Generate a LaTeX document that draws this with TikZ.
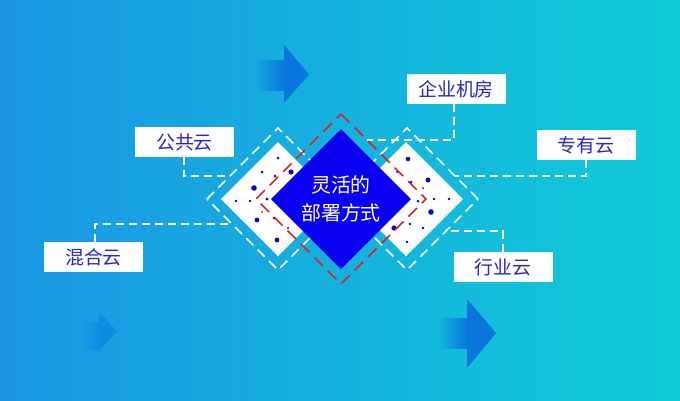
\documentclass[tikz,border=0pt]{standalone}
\usepackage{fontspec}
\newfontfamily\cjk{Noto Sans CJK SC}
\definecolor{bgL}{RGB}{26,150,228}
\definecolor{bgR}{RGB}{16,204,216}
\definecolor{arrowc}{RGB}{8,118,220}
\definecolor{arrowf}{RGB}{12,140,226}
\definecolor{coreblue}{RGB}{10,0,240}
\definecolor{dotblue}{RGB}{15,0,220}
\definecolor{txtblue}{RGB}{40,40,200}
\definecolor{redd}{RGB}{215,35,35}
\tikzset{
  lbl/.style={fill=white, minimum width=99bp, minimum height=30bp, inner sep=0pt,
    font=\cjk\fontsize{19}{19}\selectfont, text=txtblue},
  conn/.style={white, line width=1.4bp, dash pattern=on 8bp off 5bp},
  frame/.style={white, line width=1.5bp, dash pattern=on 10bp off 6bp},
  reddash/.style={redd, line width=1.6bp, dash pattern=on 12bp off 7bp},
  dot/.style={fill=dotblue}
}
\begin{document}
\begin{tikzpicture}[x=1bp,y=-1bp]
\useasboundingbox (0,0) rectangle (680,400);
% background
\shade[left color=bgL, right color=bgR] (0,0) rectangle (680,400);
% arrows
\shade[left color={rgb,255:red,22;green,168;blue,224}, right color=arrowc] (255,60) rectangle (285,90);
\fill[arrowc] (284,45) -- (309,74.5) -- (284,103) -- cycle;
\shade[left color={rgb,255:red,19;green,186;blue,220}, right color=arrowc] (437,318) rectangle (468,348);
\fill[arrowc] (467,299) -- (496,333) -- (467,368) -- cycle;
\shade[left color={rgb,255:red,25;green,157;blue,227}, right color=arrowf] (82,322) rectangle (100,350);
\fill[arrowf] (99,312) -- (117,331) -- (99,351) -- cycle;
% labels
\node[lbl] (gy) at (184.5,142) {公共云};
\node[lbl] (hh) at (93.5,257) {混合云};
\node[lbl] (qy) at (456,89) {企业机房};
\node[lbl] (zy) at (586,145) {专有云};
\node[lbl] (hy) at (503,267) {行业云};
% connector coordinates
\coordinate (gyA) at (184,176); \coordinate (gyB) at (230,176);
\coordinate (hhA) at (95,224); \coordinate (hhB) at (232,224);
\coordinate (qyA) at (454,140); \coordinate (qyB) at (367,140);
\coordinate (zyA) at (586,176); \coordinate (zyB) at (455,176);
\coordinate (hyA) at (503,231); \coordinate (hyB) at (446,231);
\draw[conn] (gy.south -| gyA) -- (gyA) -- (gyB);
\draw[conn] (hh.north -| hhA) -- (hhA) -- (hhB);
\draw[conn] (qy.south -| qyA) -- (qyA) -- (qyB);
\draw[conn] (zy.south -| zyA) -- (zyA) -- (zyB);
\draw[conn] (hy.north -| hyA) -- (hyA) -- (hyB);
% dashed frames
\draw[frame] (207,199) -- (278,128) -- (349,199) -- (278,270) -- cycle;
\draw[frame] (478,199) -- (407,128) -- (336,199) -- (407,270) -- cycle;
% white diamonds
\fill[white] (221,199) -- (278,142) -- (335,199) -- (278,256) -- cycle;
\fill[white] (463,199) -- (406,142) -- (349,199) -- (406,256) -- cycle;
% dots left
\foreach \x/\y/\r in {278/158/1.5, 262/172/1.5, 275/176/1.5, 291/172/2.6, 254/188/2.8,
  236/201/1.4, 250/201/1.4, 267/199/1.6, 262/212/0.9, 257/220/2.4, 274/218/1.5,
  288/228/1.2, 277/240/2.4}
  \fill[dot] (\x,\y) circle (\r);
% dots right
\foreach \x/\y/\r in {408/159/2.3, 397/172/1.1, 411/182/1.5, 428/180/2.5, 423/188/1.0,
  418/201/1.5, 434/199/1.3, 449/199/1.3, 431/212/2.8, 410/224/1.4, 394/228/2.6,
  423/228/1.4, 407/242/1.3}
  \fill[dot] (\x,\y) circle (\r);
% red dashed diamond
\draw[reddash] (341,114) -- (426,199) -- (341,284) -- (256,199) -- cycle;
% core diamond
\fill[coreblue] (341,129) -- (411,199) -- (341,269) -- (271,199) -- cycle;
\node[align=center, text=white, font=\cjk\fontsize{20}{28}\selectfont] (core) at (341,199) {灵活的\\部署方式};
\end{tikzpicture}
\end{document}
